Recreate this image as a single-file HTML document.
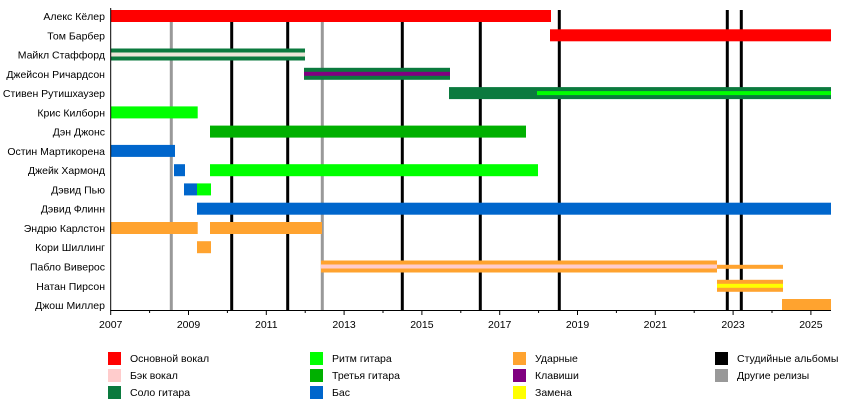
<!DOCTYPE html>
<html><head><meta charset="utf-8"><style>
html,body{margin:0;padding:0;background:#fff;width:850px;height:400px;overflow:hidden}
text{font-family:"Liberation Sans",sans-serif;font-size:10.5px;fill:#000}
</style></head><body>
<svg width="850" height="400" xmlns="http://www.w3.org/2000/svg">
<g stroke-width="3">
<line x1="171.3" y1="10" x2="171.3" y2="310" stroke="#999"/>
<line x1="322.3" y1="10" x2="322.3" y2="310" stroke="#999"/>
<line x1="231.7" y1="10" x2="231.7" y2="310" stroke="#000"/>
<line x1="287.7" y1="10" x2="287.7" y2="310" stroke="#000"/>
<line x1="402.3" y1="10" x2="402.3" y2="310" stroke="#000"/>
<line x1="480.3" y1="10" x2="480.3" y2="310" stroke="#000"/>
<line x1="559.3" y1="10" x2="559.3" y2="310" stroke="#000"/>
<line x1="727.3" y1="10" x2="727.3" y2="310" stroke="#000"/>
<line x1="741.3" y1="10" x2="741.3" y2="310" stroke="#000"/>
</g>
<!-- bars: row center = 16 + i*19.27, height 12 -->
<rect x="110.7" y="10" width="440.3" height="12" fill="#FF0000"/>
<rect x="550" y="29.3" width="281" height="12" fill="#FF0000"/>
<rect x="110.7" y="48.5" width="194.3" height="12" fill="#0B7A3E"/>
<rect x="110.7" y="52.5" width="194.3" height="4" fill="#ECE6D8"/>
<rect x="304" y="67.8" width="146" height="12" fill="#0B7A3E"/>
<rect x="304" y="71.8" width="146" height="4" fill="#800080"/>
<rect x="449" y="87.1" width="382" height="12" fill="#0B7A3E"/>
<rect x="537" y="91.1" width="294" height="4" fill="#00FF00"/>
<rect x="110.7" y="106.4" width="87" height="12" fill="#00FF00"/>
<rect x="210" y="125.6" width="316" height="12" fill="#00B000"/>
<rect x="110.7" y="144.9" width="64.3" height="12" fill="#0066CC"/>
<rect x="174" y="164.2" width="11" height="12" fill="#0066CC"/>
<rect x="210" y="164.2" width="328" height="12" fill="#00FF00"/>
<rect x="184" y="183.4" width="13" height="12" fill="#0066CC"/>
<rect x="197" y="183.4" width="14" height="12" fill="#00FF00"/>
<rect x="197" y="202.7" width="634" height="12" fill="#0066CC"/>
<rect x="110.7" y="222" width="87" height="12" fill="#FFA32F"/>
<rect x="210" y="222" width="112" height="12" fill="#FFA32F"/>
<rect x="197" y="241.2" width="14" height="12" fill="#FFA32F"/>
<rect x="321" y="260.5" width="396" height="12" fill="#FFA32F"/>
<rect x="321" y="264.5" width="396" height="4" fill="#FFCCCC"/>
<rect x="717" y="264.8" width="66" height="4" fill="#FFA32F"/>
<rect x="717" y="279.8" width="66" height="12" fill="#FFA32F"/>
<rect x="717" y="283.8" width="66" height="4" fill="#FFFF00"/>
<rect x="782" y="299" width="49" height="12" fill="#FFA32F"/>
<!-- axes -->
<line x1="110.7" y1="8" x2="110.7" y2="311" stroke="#000" stroke-width="1"/>
<line x1="110.7" y1="310.5" x2="831" y2="310.5" stroke="#000" stroke-width="1"/>
<g stroke="#000" stroke-width="1">
<line x1="110.7" y1="310" x2="110.7" y2="315"/><line x1="149.6" y1="310" x2="149.6" y2="313"/>
<line x1="188.5" y1="310" x2="188.5" y2="315"/><line x1="227.4" y1="310" x2="227.4" y2="313"/>
<line x1="266.3" y1="310" x2="266.3" y2="315"/><line x1="305.2" y1="310" x2="305.2" y2="313"/>
<line x1="344.1" y1="310" x2="344.1" y2="315"/><line x1="383" y1="310" x2="383" y2="313"/>
<line x1="421.9" y1="310" x2="421.9" y2="315"/><line x1="460.8" y1="310" x2="460.8" y2="313"/>
<line x1="499.7" y1="310" x2="499.7" y2="315"/><line x1="538.6" y1="310" x2="538.6" y2="313"/>
<line x1="577.5" y1="310" x2="577.5" y2="315"/><line x1="616.4" y1="310" x2="616.4" y2="313"/>
<line x1="655.3" y1="310" x2="655.3" y2="315"/><line x1="694.2" y1="310" x2="694.2" y2="313"/>
<line x1="733.1" y1="310" x2="733.1" y2="315"/><line x1="772" y1="310" x2="772" y2="313"/>
<line x1="810.9" y1="310" x2="810.9" y2="315"/>
</g>
<g text-anchor="middle">
<text x="110.7" y="328">2007</text><text x="188.5" y="328">2009</text><text x="266.3" y="328">2011</text>
<text x="344.1" y="328">2013</text><text x="421.9" y="328">2015</text><text x="499.7" y="328">2017</text>
<text x="577.5" y="328">2019</text><text x="655.3" y="328">2021</text><text x="733.1" y="328">2023</text>
<text x="810.9" y="328">2025</text>
</g>
<g text-anchor="end">
<text x="105" y="20">Алекс Кёлер</text>
<text x="105" y="39.3">Том Барбер</text>
<text x="105" y="58.5">Майкл Стаффорд</text>
<text x="105" y="77.8">Джейсон Ричардсон</text>
<text x="105" y="97.1">Стивен Рутишхаузер</text>
<text x="105" y="116.4">Крис Килборн</text>
<text x="105" y="135.6">Дэн Джонс</text>
<text x="105" y="154.9">Остин Мартикорена</text>
<text x="105" y="174.2">Джейк Хармонд</text>
<text x="105" y="193.4">Дэвид Пью</text>
<text x="105" y="212.7">Дэвид Флинн</text>
<text x="105" y="232">Эндрю Карлстон</text>
<text x="105" y="251.2">Кори Шиллинг</text>
<text x="105" y="270.5">Пабло Виверос</text>
<text x="105" y="289.8">Натан Пирсон</text>
<text x="105" y="309">Джош Миллер</text>
</g>
<!-- legend -->
<rect x="108" y="352" width="13" height="13" fill="#FF0000"/><text x="130" y="362">Основной вокал</text>
<rect x="108" y="369" width="13" height="13" fill="#FFCCCC"/><text x="130" y="379">Бэк вокал</text>
<rect x="108" y="386" width="13" height="13" fill="#0B7A3E"/><text x="130" y="396">Соло гитара</text>
<rect x="310" y="352" width="13" height="13" fill="#00FF00"/><text x="332" y="362">Ритм гитара</text>
<rect x="310" y="369" width="13" height="13" fill="#00B000"/><text x="332" y="379">Третья гитара</text>
<rect x="310" y="386" width="13" height="13" fill="#0066CC"/><text x="332" y="396">Бас</text>
<rect x="513" y="352" width="13" height="13" fill="#FFA32F"/><text x="535" y="362">Ударные</text>
<rect x="513" y="369" width="13" height="13" fill="#800080"/><text x="535" y="379">Клавиши</text>
<rect x="513" y="386" width="13" height="13" fill="#FFFF00"/><text x="535" y="396">Замена</text>
<rect x="715" y="352" width="13" height="13" fill="#000"/><text x="737" y="362">Студийные альбомы</text>
<rect x="715" y="369" width="13" height="13" fill="#999"/><text x="737" y="379">Другие релизы</text>
</svg>
</body></html>
